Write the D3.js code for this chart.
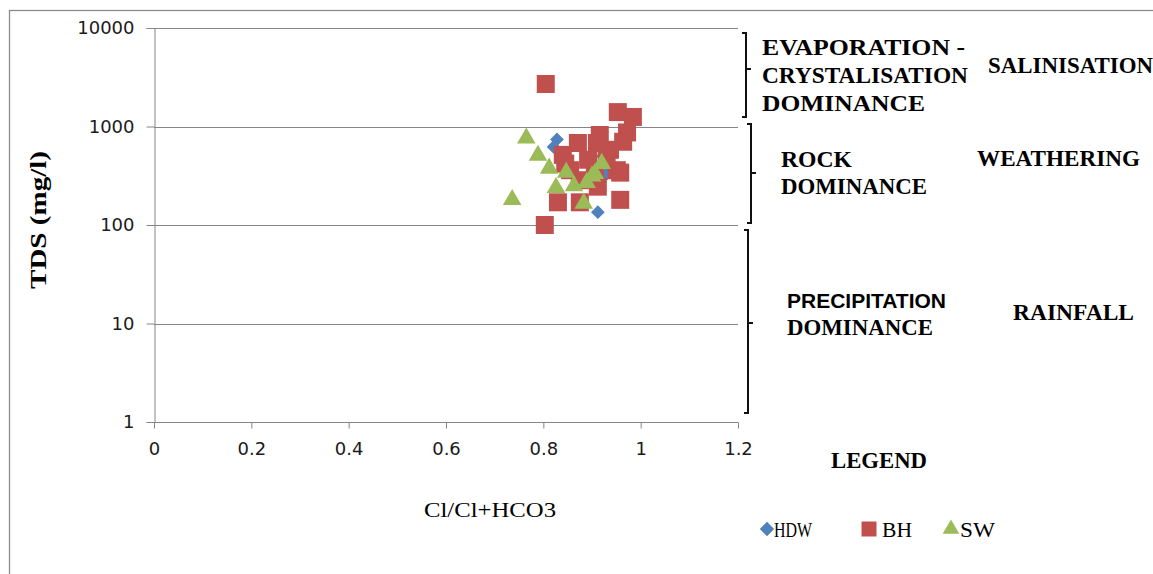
<!DOCTYPE html>
<html>
<head>
<meta charset="utf-8">
<script src="https://cdn.jsdelivr.net/npm/d3@7"></script>
<style>
  html, body { margin: 0; padding: 0; background: #ffffff; }
  svg { display: block; }
</style>
</head>
<body>
<svg id="chart" width="1153" height="574"></svg>
<script>
// ---- data ----
const seriesNames = ["HDW", "BH", "SW"];
const xTicks = [0, 0.2, 0.4, 0.6, 0.8, 1, 1.2];
const xTickLabels = ["0", "0.2", "0.4", "0.6", "0.8", "1", "1.2"];
const yTicks = [1, 10, 100, 1000, 10000];
const yTickLabels = ["1", "10", "100", "1000", "10000"];

const hdwX = [0.828, 0.821, 0.900, 0.930, 0.912];
const hdwY = [740, 620, 500, 330, 135];

const bhX = [0.805, 0.953, 0.984, 0.972, 0.964, 0.916, 0.871, 0.840, 0.937, 0.951, 0.958,
             0.912, 0.958, 0.830, 0.875, 0.803, 0.906, 0.892, 0.930, 0.855, 0.845, 0.875, 0.910];
const bhY = [2700, 1400, 1250, 870, 700, 820, 680, 515, 580, 360, 340,
             245, 180, 170, 170, 100, 360, 460, 460, 360, 420, 285, 680];

const swX = [0.765, 0.736, 0.789, 0.812, 0.826, 0.847, 0.863, 0.889, 0.900, 0.906, 0.920, 0.883];
const swY = [780, 185, 520, 385, 245, 350, 255, 275, 320, 340, 430, 170];

const colors = ["#4F81BD", "#C0504D", "#9BBB59"];

// ---- layout ----
const svg = d3.select("#chart");
const plotL = 154, plotR = 738, plotT = 28, plotB = 422;

const x = d3.scaleLinear().domain([0, 1.2]).range([plotL, plotR]);
const y = d3.scaleLog().domain([1, 10000]).range([plotB, plotT]);

// outer frame
svg.append("rect")
  .attr("x", 9.5).attr("y", 10.5)
  .attr("width", 1300).attr("height", 700)
  .attr("fill", "none").attr("stroke", "#8c8c8c").attr("stroke-width", 1.3);

// gridlines
svg.append("g").selectAll("line").data(yTicks.slice(1)).join("line")
  .attr("x1", plotL).attr("x2", plotR)
  .attr("y1", d => Math.round(y(d)) + 0.5).attr("y2", d => Math.round(y(d)) + 0.5)
  .attr("stroke", "#868686").attr("stroke-width", 1);

// y axis
const yAxis = d3.axisLeft(y).tickValues(yTicks)
  .tickFormat((d, i) => yTickLabels[i]).tickSize(8).tickPadding(12);
const gy = svg.append("g").attr("transform", `translate(${plotL + 0.5},0)`).call(yAxis);
gy.select(".domain").attr("stroke", "#868686");
gy.selectAll(".tick line").attr("stroke", "#868686");
gy.selectAll(".tick text")
  .attr("font-family", "DejaVu Sans, sans-serif").attr("font-size", 18)
  .attr("fill", "#1a1a1a");

// x axis
const xAxis = d3.axisBottom(x).tickValues(xTicks)
  .tickFormat((d, i) => xTickLabels[i]).tickSize(6).tickPadding(14);
const gx = svg.append("g").attr("transform", `translate(0,${plotB + 0.5})`).call(xAxis);
gx.select(".domain").attr("stroke", "#868686").attr("d", `M${plotL},0H${plotR}`);
gx.selectAll(".tick line").attr("stroke", "#868686");
gx.selectAll(".tick text")
  .attr("font-family", "DejaVu Sans, sans-serif").attr("font-size", 18)
  .attr("fill", "#1a1a1a");

// axis titles
svg.append("text")
  .attr("transform", "translate(46,220) rotate(-90)")
  .attr("text-anchor", "middle")
  .attr("font-family", "Liberation Serif, serif").attr("font-weight", "bold")
  .attr("font-size", 23).attr("fill", "#000")
  .attr("textLength", 138).attr("lengthAdjust", "spacingAndGlyphs")
  .text("TDS (mg/l)");

svg.append("text")
  .attr("x", 490).attr("y", 517)
  .attr("text-anchor", "middle")
  .attr("font-family", "Liberation Serif, serif")
  .attr("font-size", 22).attr("fill", "#000")
  .attr("textLength", 132).attr("lengthAdjust", "spacingAndGlyphs")
  .text("Cl/Cl+HCO3");

// ---- markers ----
const sq = d3.symbol().type(d3.symbolSquare).size(18 * 18);
const tri = d3.symbol().type(d3.symbolTriangle).size(150);
const dia = d3.symbol().type(d3.symbolDiamond2).size(120);

const hdw = hdwX.map((v, i) => ({x: v, y: hdwY[i]}));
const bh = bhX.map((v, i) => ({x: v, y: bhY[i]}));
const sw = swX.map((v, i) => ({x: v, y: swY[i]}));

svg.append("g").selectAll("path").data(hdw).join("path")
  .attr("d", dia).attr("transform", d => `translate(${x(d.x)},${y(d.y)})`)
  .attr("fill", colors[0]);
svg.append("g").selectAll("path").data(bh).join("path")
  .attr("d", sq).attr("transform", d => `translate(${x(d.x)},${y(d.y)})`)
  .attr("fill", colors[1]);
svg.append("g").selectAll("path").data(sw).join("path")
  .attr("d", tri).attr("transform", d => `translate(${x(d.x)},${y(d.y) + 1})`)
  .attr("fill", colors[2]);

// ---- brackets ----
function bracket(bx, y0, y1, ym) {
  const p = `M${bx - 4},${y0}H${bx}V${y1}H${bx - 4}M${bx},${ym}H${bx + 5}`;
  svg.append("path").attr("d", p).attr("fill", "none")
    .attr("stroke", "#111").attr("stroke-width", 2);
}
bracket(746, 33, 117, 69);
bracket(751, 124, 223, 173);
bracket(748, 230, 413, 323);

// ---- annotation texts ----
const notes = [
  {t: "EVAPORATION -", x: 762, y: 55, w: 203, f: "serif"},
  {t: "CRYSTALISATION", x: 762, y: 83, w: 206, f: "serif"},
  {t: "DOMINANCE", x: 762, y: 111, w: 163, f: "serif"},
  {t: "SALINISATION", x: 988, y: 73, w: 165, f: "serif"},
  {t: "ROCK", x: 781, y: 167, w: 71, f: "serif"},
  {t: "DOMINANCE", x: 781, y: 194, w: 146, f: "serif"},
  {t: "WEATHERING", x: 977, y: 166, w: 163, f: "serif"},
  {t: "PRECIPITATION", x: 787, y: 308, w: 159, f: "sans"},
  {t: "DOMINANCE", x: 787, y: 335, w: 146, f: "serif"},
  {t: "RAINFALL", x: 1013, y: 320, w: 121, f: "serif"},
  {t: "LEGEND", x: 831, y: 468, w: 96, f: "serif"}
];
svg.append("g").selectAll("text").data(notes).join("text")
  .attr("x", d => d.x).attr("y", d => d.y)
  .attr("font-family", d => d.f === "sans" ? "Liberation Sans, Arial, sans-serif" : "Liberation Serif, serif")
  .attr("font-weight", "bold")
  .attr("font-size", d => d.f === "sans" ? 20 : 23)
  .attr("textLength", d => d.w)
  .attr("lengthAdjust", "spacingAndGlyphs")
  .attr("fill", "#000")
  .text(d => d.t);

// ---- legend ----
const legendItems = [
  {name: seriesNames[0], sym: d3.symbol().type(d3.symbolDiamond2).size(130), mx: 767, tx: 774, tw: 38, c: colors[0]},
  {name: seriesNames[1], sym: d3.symbol().type(d3.symbolSquare).size(15 * 15), mx: 869, tx: 882, tw: 30, c: colors[1]},
  {name: seriesNames[2], sym: d3.symbol().type(d3.symbolTriangle).size(120), mx: 951, tx: 960, tw: 35, c: colors[2]}
];
const lg = svg.append("g");
legendItems.forEach(it => {
  lg.append("path").attr("d", it.sym).attr("transform", `translate(${it.mx},529)`).attr("fill", it.c);
  lg.append("text").attr("x", it.tx).attr("y", 537)
    .attr("font-family", "Liberation Serif, serif").attr("font-size", 22)
    .attr("textLength", it.tw).attr("lengthAdjust", "spacingAndGlyphs")
    .attr("fill", "#000").text(it.name);
});
</script>
</body>
</html>
